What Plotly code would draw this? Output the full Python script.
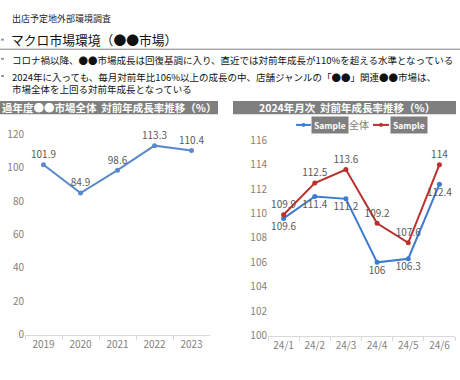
import plotly.graph_objects as go

# ---- data ----
years = ["2019", "2020", "2021", "2022", "2023"]
market_total = [101.9, 84.9, 98.6, 113.3, 110.4]

months = ["24/1", "24/2", "24/3", "24/4", "24/5", "24/6"]
sample_total = [109.6, 111.4, 111.2, 106, 106.3, 112.4]
sample_genre = [109.9, 112.5, 113.6, 109.2, 107.6, 114]

left_ticks = [0, 20, 40, 60, 80, 100, 120]
right_ticks = [100, 102, 104, 106, 108, 110, 112, 114, 116]

W, H = 460, 380
FONT = "Noto Sans CJK JP"
BLUE_L = "#5B8ACB"
BLUE = "#3C7BD0"
RED = "#B8312F"
LBL = "#595959"
TICK = "#7F7F7F"


def px(x):
    return x / W


def py(y):
    return 1 - y / H


fig = go.Figure()

fig.add_trace(go.Scatter(
    x=years, y=market_total, mode="lines+markers+text",
    line=dict(color=BLUE_L, width=2), marker=dict(size=5, color=BLUE_L),
    text=[f"{v:g}" for v in market_total], textposition="top center",
    textfont=dict(size=10, color=LBL, family=FONT),
    xaxis="x", yaxis="y", showlegend=False, cliponaxis=False))

fig.add_trace(go.Scatter(
    x=months, y=sample_total, mode="lines+markers+text",
    line=dict(color=BLUE, width=2), marker=dict(size=5, color=BLUE),
    text=[f"{v:g}" for v in sample_total], textposition="bottom center",
    textfont=dict(size=10, color=LBL, family=FONT),
    xaxis="x2", yaxis="y2", showlegend=False, cliponaxis=False))

fig.add_trace(go.Scatter(
    x=months, y=sample_genre, mode="lines+markers+text",
    line=dict(color=RED, width=2), marker=dict(size=5, color=RED),
    text=[f"{v:g}" for v in sample_genre], textposition="top center",
    textfont=dict(size=10, color=LBL, family=FONT),
    xaxis="x2", yaxis="y2", showlegend=False, cliponaxis=False))

axis_common = dict(showgrid=False, zeroline=False,
                   tickfont=dict(size=10, color=TICK, family=FONT))

fig.update_layout(
    width=W, height=H, margin=dict(l=0, r=0, t=0, b=0),
    paper_bgcolor="white", plot_bgcolor="white",
    font=dict(family=FONT),
    xaxis=dict(domain=[px(25), px(210)], anchor="y", type="category",
               range=[-0.5, len(years) - 0.5],
               showline=True, linecolor="#D9D9D9", ticks="outside",
               tickson="boundaries", tickcolor="#D9D9D9", ticklen=4, **axis_common),
    yaxis=dict(domain=[py(340), py(131)], anchor="x", range=[0, 120],
               tickvals=left_ticks, showline=False, ticks="", **axis_common),
    xaxis2=dict(domain=[px(268), px(455)], anchor="y2", type="category",
                range=[-0.5, len(months) - 0.5],
                showline=True, linecolor="#D9D9D9", ticks="outside",
                tickson="boundaries", tickcolor="#D9D9D9", ticklen=4, **axis_common),
    yaxis2=dict(domain=[py(341), py(137)], anchor="x2", range=[100, 116],
                tickvals=right_ticks, showline=False, ticks="", **axis_common),
)

shapes = []
annotations = []

# header texts
annotations.append(dict(x=px(10), y=py(9.5), xref="paper", yref="paper",
                        text="出店予定地外部環境調査", showarrow=False,
                        xanchor="left", yanchor="middle",
                        font=dict(size=9, color="#222222", family=FONT)))
annotations.append(dict(x=px(9), y=py(31.5), xref="paper", yref="paper",
                        text="マクロ市場環境（●●市場）", showarrow=False,
                        xanchor="left", yanchor="middle",
                        font=dict(size=12.8, color="#111111", family=FONT)))
shapes.append(dict(type="line", xref="paper", yref="paper",
                   x0=0, x1=1, y0=py(42), y1=py(42),
                   line=dict(color="#7F7F7F", width=1)))

bullets = [
    (53, "コロナ禍以降、●●市場成長は回復基調に入り、直近では対前年成長が110%を超える水準となっている"),
    (77, "2024年に入っても、毎月対前年比106%以上の成長の中、店舗ジャンルの「●●」関連●●市場は、"
         "<br>市場全体を上回る対前年成長となっている"),
]
for y, t in bullets:
    annotations.append(dict(x=px(10), y=py(y), xref="paper", yref="paper",
                            text=t, showarrow=False, xanchor="left", yanchor="middle",
                            align="left",
                            font=dict(size=9.5, color="#111111", family=FONT)))

for by in [32, 52, 70]:
    shapes.append(dict(type="rect", xref="paper", yref="paper",
                       x0=px(1), x1=px(4), y0=py(by - 1), y1=py(by + 1),
                       fillcolor="#9A9A9A", line=dict(width=0)))

# section header bars
shapes.append(dict(type="rect", xref="paper", yref="paper",
                   x0=0, x1=px(218), y0=py(110), y1=py(96),
                   fillcolor="#7F7F7F", line=dict(width=0)))
shapes.append(dict(type="rect", xref="paper", yref="paper",
                   x0=px(233), x1=px(456), y0=py(110), y1=py(96),
                   fillcolor="#7F7F7F", line=dict(width=0)))
annotations.append(dict(x=px(0), y=py(103), xref="paper", yref="paper",
                        text="<b>過年度●●市場全体  対前年成長率推移（%）</b>",
                        showarrow=False, xanchor="left", yanchor="middle",
                        font=dict(size=10.5, color="white", family=FONT)))
annotations.append(dict(x=px(347), y=py(103), xref="paper", yref="paper",
                        text="<b>2024年月次  対前年成長率推移（%）</b>",
                        showarrow=False, xanchor="center", yanchor="middle",
                        font=dict(size=10.5, color="white", family=FONT)))

# manual legend for right chart
LY = 121
for (x0, x1, col) in [(296, 311, BLUE), (373, 389, RED)]:
    shapes.append(dict(type="line", xref="paper", yref="paper",
                       x0=px(x0), x1=px(x1), y0=py(LY), y1=py(LY),
                       line=dict(color=col, width=2)))
    cx = (x0 + x1) / 2
    shapes.append(dict(type="circle", xref="paper", yref="paper",
                       x0=px(cx - 2), x1=px(cx + 2), y0=py(LY - 2), y1=py(LY + 2),
                       fillcolor=col, line=dict(width=0)))
for xc in [329.5, 409]:
    annotations.append(dict(x=px(xc), y=py(LY), xref="paper", yref="paper",
                            text="<b>Sample</b>", showarrow=False,
                            xanchor="center", yanchor="middle",
                            bgcolor="#7F7F7F", borderpad=2,
                            font=dict(size=8.5, color="white", family=FONT)))
annotations.append(dict(x=px(347), y=py(LY), xref="paper", yref="paper",
                        text="全体", showarrow=False, xanchor="left", yanchor="middle",
                        font=dict(size=10, color=TICK, family=FONT)))

fig.update_layout(shapes=shapes, annotations=annotations)

fig.write_html("out.html", config={"displayModeBar": False},
               post_script="document.body.style.margin='0';document.body.style.overflow='hidden';")
